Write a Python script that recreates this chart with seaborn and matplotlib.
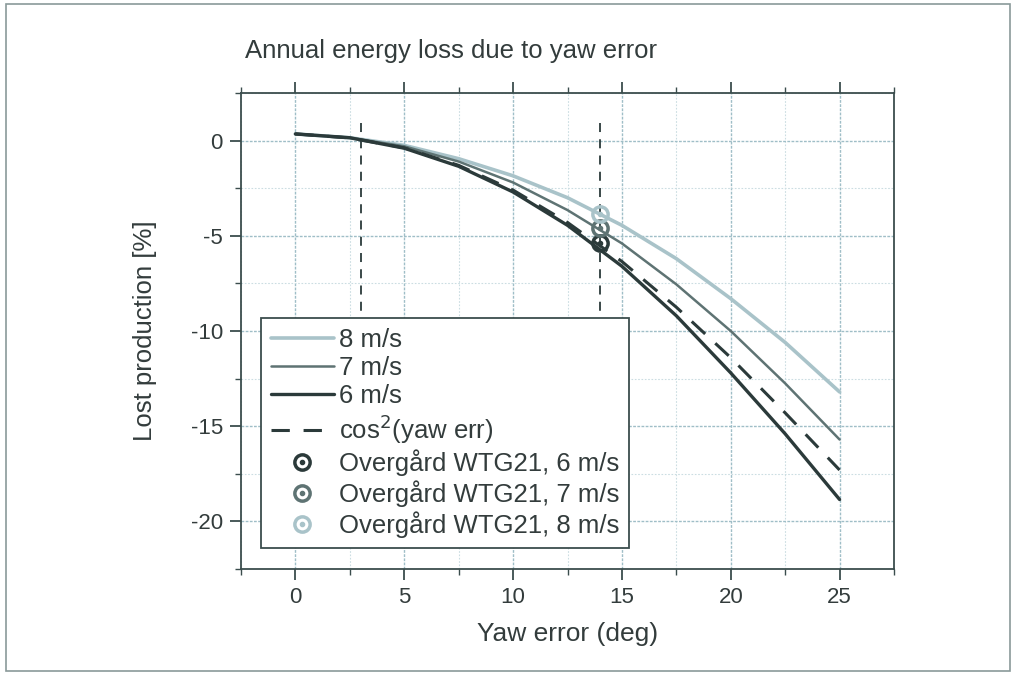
import matplotlib
matplotlib.use("Agg")
import matplotlib.pyplot as plt
import seaborn as sns
import pandas as pd
from matplotlib.patches import Rectangle
from matplotlib.legend_handler import HandlerTuple
from matplotlib.ticker import MultipleLocator

# ---------------- data ----------------
yaw_deg = [0, 2.5, 5, 7.5, 10, 12.5, 15, 17.5, 20, 22.5, 25]
loss_6ms = [0.35, 0.15, -0.40, -1.35, -2.70, -4.45, -6.60, -9.20, -12.20, -15.40, -18.85]
loss_7ms = [0.35, 0.15, -0.30, -1.10, -2.20, -3.65, -5.40, -7.55, -10.00, -12.75, -15.70]
loss_8ms = [0.35, 0.15, -0.25, -0.95, -1.85, -3.00, -4.45, -6.20, -8.30, -10.60, -13.20]
loss_cos2 = [0.35, 0.14, -0.38, -1.30, -2.60, -4.30, -6.35, -8.75, -11.40, -14.30, -17.30]

meas_yaw = [14, 14, 14]
meas_loss = [-5.4, -4.6, -3.85]          # 6, 7, 8 m/s
meas_labels = ["Overgård WTG21, 6 m/s", "Overgård WTG21, 7 m/s", "Overgård WTG21, 8 m/s"]

ref_yaw = [3, 14]                         # vertical reference lines

x_ticks = [0, 5, 10, 15, 20, 25]
y_ticks = [0, -5, -10, -15, -20]

# ---------------- style ----------------
sns.set_style("white")
plt.rcParams["font.family"] = ["Liberation Sans", "DejaVu Sans"]
plt.rcParams["axes.unicode_minus"] = False
TXT = "#333c3c"
SPINE = "#3b4d4d"
C6, C7, C8 = "#2b3a3a", "#5e7373", "#a9c3c9"

fig = plt.figure(figsize=(10.16, 6.73), dpi=100)
ax = fig.add_axes([241 / 1016, 1 - 569 / 673, (894 - 241) / 1016, (569 - 93) / 673])

df = pd.DataFrame({"yaw": yaw_deg, "s8": loss_8ms, "s7": loss_7ms,
                   "s6": loss_6ms, "cos2": loss_cos2})

# vertical reference lines
for xv in ref_yaw:
    ax.plot([xv, xv], [0.95, -21.0], color=C6, lw=1.3, ls=(0, (5, 4)), zorder=2)

sns.lineplot(data=df, x="yaw", y="s8", ax=ax, color=C8, lw=2.6, label="8 m/s", zorder=3)
sns.lineplot(data=df, x="yaw", y="s7", ax=ax, color=C7, lw=1.8, label="7 m/s", zorder=3)
sns.lineplot(data=df, x="yaw", y="s6", ax=ax, color=C6, lw=2.4, label="6 m/s", zorder=3)
sns.lineplot(data=df, x="yaw", y="cos2", ax=ax, color=C6, lw=2.2, ls=(0, (6, 4.5)),
             label="cos$^2$(yaw err)", zorder=3)

mcols = [C6, C7, C8]
mhandles = []
for xv, yv, c in zip(meas_yaw, meas_loss, mcols):
    ring, = ax.plot([xv], [yv], ls="none", marker="o", ms=11, mfc="none",
                    mec=c, mew=2.5, zorder=5)
    dot, = ax.plot([xv], [yv], ls="none", marker="o", ms=3, mfc=c, mec=c, zorder=5)
    mhandles.append((ring, dot))

ax.set_xlim(-2.5, 27.5)
ax.set_ylim(-22.5, 2.5)
ax.set_xticks(x_ticks)
ax.set_yticks(y_ticks)
ax.xaxis.set_minor_locator(MultipleLocator(2.5))
ax.yaxis.set_minor_locator(MultipleLocator(2.5))

ax.grid(which="major", color="#9fbec7", lw=1.0, ls=(0, (2, 1)))
ax.grid(which="minor", color="#cbdde2", lw=0.8, ls=(0, (1.5, 1.5)))
ax.set_axisbelow(True)

for s in ax.spines.values():
    s.set_color(SPINE)
    s.set_linewidth(1.3)
    s.set_visible(True)

ax.tick_params(which="major", direction="out", length=8, width=1.3, color=SPINE,
               top=True, right=False, bottom=True, left=True,
               labelsize=16, labelcolor=TXT, pad=5)
ax.tick_params(which="minor", direction="out", length=4, width=1.0, color=SPINE,
               top=True, right=False, bottom=True, left=True)

ax.set_xlabel("Yaw error (deg)", fontsize=19, color=TXT, labelpad=10)
ax.set_ylabel("Lost production [%]", fontsize=18.5, color=TXT, labelpad=24)

fig.text(245 / 1016, 1 - 51 / 673, "Annual energy loss due to yaw error",
         fontsize=18.5, color=TXT, va="center", ha="left")

# legend
h, l = ax.get_legend_handles_labels()
handles = h[:4] + mhandles
labels = l[:4] + meas_labels
leg = ax.legend(handles, labels, loc="upper left",
                bbox_to_anchor=((261 - 241) / 653, (569 - 318) / 476),
                borderaxespad=0, fontsize=18.5, frameon=True, fancybox=False,
                handlelength=2.45, handletextpad=0.2, labelspacing=0.16,
                borderpad=0.38, handler_map={tuple: HandlerTuple(ndivide=1)})
leg.get_frame().set_edgecolor(SPINE)
leg.get_frame().set_linewidth(1.3)
leg.get_frame().set_facecolor("white")
leg.get_frame().set_alpha(1)
for t in leg.get_texts():
    t.set_color(TXT)

# outer frame of the figure
fig.patches.append(Rectangle((6 / 1016, 2 / 673), 1004 / 1016, 667 / 673,
                             transform=fig.transFigure, fill=False,
                             edgecolor="#8a9a9a", lw=1.2))

fig.savefig("out.png", dpi=100)
